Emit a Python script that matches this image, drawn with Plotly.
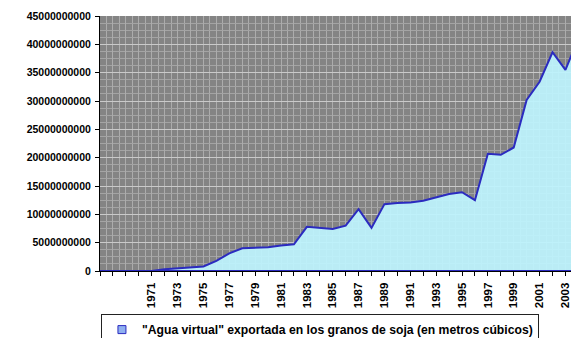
import plotly.graph_objects as go

# ---- data ----
years = [1967, 1968, 1969, 1970, 1971, 1972, 1973, 1974, 1975, 1976,
         1977, 1978, 1979, 1980, 1981, 1982, 1983, 1984, 1985, 1986,
         1987, 1988, 1989, 1990, 1991, 1992, 1993, 1994, 1995, 1996,
         1997, 1998, 1999, 2000, 2001, 2002, 2003, 2004]

agua_virtual = [0, 0, 0, 0, 0, 0.3e9, 0.5e9, 0.6e9, 0.8e9, 1.8e9,
                3.1e9, 4.0e9, 4.1e9, 4.2e9, 4.5e9, 4.7e9, 7.8e9, 7.6e9, 7.4e9, 8.0e9,
                10.9e9, 7.6e9, 11.8e9, 12.0e9, 12.1e9, 12.4e9, 13.0e9, 13.6e9, 13.9e9, 12.5e9,
                20.7e9, 20.5e9, 21.8e9, 30.2e9, 33.4e9, 38.6e9, 35.5e9, 41.0e9]

x_tick_labels = ["", "", "", "", "1971", "", "1973", "", "1975", "",
                 "1977", "", "1979", "", "1981", "", "1983", "", "1985", "",
                 "1987", "", "1989", "", "1991", "", "1993", "", "1995", "",
                 "1997", "", "1999", "", "2001", "", "2003", ""]

y_tick_values = [0, 5e9, 10e9, 15e9, 20e9, 25e9, 30e9, 35e9, 40e9, 45e9]
y_tick_labels = ["0", "5000000000", "10000000000", "15000000000", "20000000000",
                 "25000000000", "30000000000", "35000000000", "40000000000",
                 "45000000000"]

series_name = '"Agua virtual" exportada en los granos de soja (en metros cúbicos)'

# closed polygon so that the border runs round the whole area (as in the original)
x_poly = years + years[::-1]
y_poly = agua_virtual + [0] * len(years)

FONT = "Liberation Sans"

fig = go.Figure()
fig.add_trace(go.Scatter(
    x=x_poly, y=y_poly, mode="lines", fill="toself",
    fillcolor="rgba(190,244,254,0.93)",
    line=dict(color="#2b2bbf", width=2),
    showlegend=False, hoverinfo="skip",
))
fig.add_trace(go.Scatter(
    x=[None], y=[None], mode="markers", name=series_name,
    marker=dict(symbol="square", size=8, color="#8fb0f0",
                line=dict(color="#2b2bbf", width=1)),
))

fig.update_layout(
    width=571, height=338,
    margin=dict(l=100, r=0, t=16, b=67, autoexpand=False),
    paper_bgcolor="white",
    plot_bgcolor="#848484",
    font=dict(family=FONT, color="black"),
    legend=dict(
        orientation="h", x=0.002, y=-0.169, xanchor="left", yanchor="top",
        bgcolor="white", bordercolor="#222222", borderwidth=1,
        font=dict(family=FONT, size=12.2, color="black", weight="bold"),
    ),
    xaxis=dict(
        range=[1967, 2003.43], automargin=False,
        tickmode="array", tickvals=years, ticktext=x_tick_labels,
        tickangle=-90, ticks="outside", ticklen=4, tickcolor="black",
        ticklabelstandoff=2, ticklabeloverflow="allow",
        showline=True, linecolor="black", linewidth=1,
        showgrid=True, gridcolor="#acacac", gridwidth=1,
        minor=dict(tickmode="linear", tick0=1967, dtick=0.5, showgrid=True,
                   gridcolor="#acacac", gridwidth=1, ticks=""),
        zeroline=False,
        tickfont=dict(family=FONT, size=11.5, color="black", weight="bold"),
    ),
    yaxis=dict(
        range=[0, 45e9], automargin=False,
        tickmode="array", tickvals=y_tick_values, ticktext=y_tick_labels,
        ticks="outside", ticklen=4, tickcolor="black",
        ticklabelstandoff=2,
        showline=True, linecolor="black", linewidth=1,
        showgrid=True, gridcolor="#cacaca", gridwidth=1,
        minor=dict(tickmode="linear", tick0=0, dtick=1.25e9, showgrid=True,
                   gridcolor="#a4a4a4", gridwidth=1, ticks=""),
        zeroline=False,
        tickfont=dict(family=FONT, size=10.5, color="black", weight="bold"),
    ),
)

# the page's default body margin would shift the chart; remove it
page_fix = ("document.body.style.margin='0px';"
            "document.body.style.overflow='hidden';"
            "document.documentElement.style.overflow='hidden';")

fig.write_html("out.html", post_script=page_fix,
               config={"displayModeBar": False})
